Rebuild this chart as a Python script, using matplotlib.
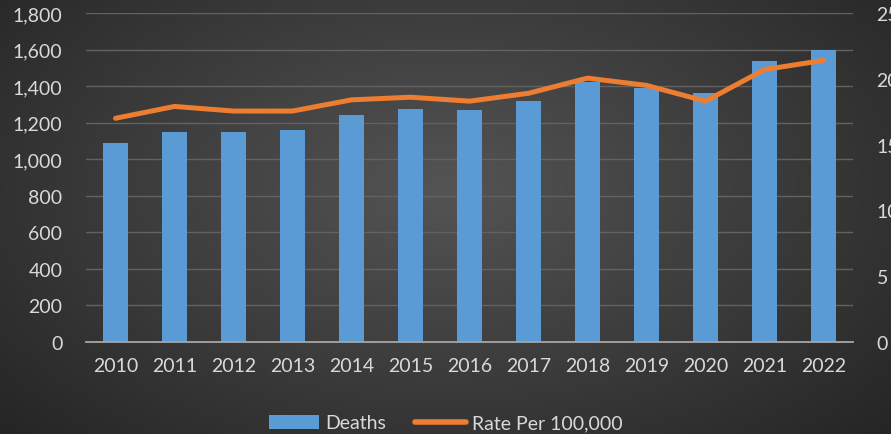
import numpy as np
import matplotlib.pyplot as plt
from matplotlib.patches import Patch
from matplotlib.lines import Line2D

years = ['2010', '2011', '2012', '2013', '2014', '2015', '2016',
         '2017', '2018', '2019', '2020', '2021', '2022']
deaths = [1090, 1150, 1150, 1160, 1240, 1275, 1268, 1320, 1420, 1390, 1360, 1535, 1600]
rate = [17.0, 17.9, 17.55, 17.55, 18.4, 18.6, 18.3, 18.9, 20.05, 19.5, 18.3, 20.7, 21.4]

plt.rcParams['font.family'] = ['Lato', 'DejaVu Sans']
text_color = '#d9d9d9'
bar_color = '#5b9bd5'
line_color = '#ed7d31'

fig = plt.figure(figsize=(8.91, 4.35), dpi=100)

# Radial dark background
bg = fig.add_axes([0, 0, 1, 1], zorder=-10)
yy, xx = np.mgrid[0:435, 0:891]
r = np.sqrt(((xx - 445) / 560.0) ** 2 + ((yy - 190) / 330.0) ** 2)
shade = np.clip(0.33 - 0.17 * r, 0.14, 0.33)
bg.imshow(np.dstack([shade, shade, shade]), aspect='auto', extent=[0, 1, 0, 1])
bg.axis('off')

ax = fig.add_axes([86 / 891, 1 - 343 / 435, (853 - 86) / 891, (343 - 14) / 435])
ax.patch.set_alpha(0)
x = np.arange(len(years))
ax.bar(x, deaths, width=0.41, color=bar_color, zorder=2)
ax.set_ylim(0, 1800)
ax.set_yticks(range(0, 1801, 200))
ax.set_yticklabels([f'{v:,}' for v in range(0, 1801, 200)])
ax.set_xlim(-0.5, len(years) - 0.5)
ax.set_xticks(x)
ax.set_xticklabels(years)
ax.grid(axis='y', color='#626262', linewidth=1.0, zorder=0)
ax.set_axisbelow(True)
for s in ['top', 'right', 'left']:
    ax.spines[s].set_visible(False)
ax.spines['bottom'].set_color('#a6a6a6')
ax.spines['bottom'].set_linewidth(1.3)
ax.tick_params(axis='both', length=0, colors=text_color, labelsize=14)
ax.tick_params(axis='y', pad=17)
ax.tick_params(axis='x', pad=11)

ax2 = ax.twinx()
ax2.plot(x, rate, color=line_color, linewidth=3.6, solid_capstyle='round', zorder=3)
ax2.set_ylim(0, 25)
ax2.set_yticks(range(0, 26, 5))
for s in ax2.spines.values():
    s.set_visible(False)
ax2.tick_params(axis='y', length=0, colors=text_color, labelsize=14, pad=17)

handles = [Patch(facecolor=bar_color, label='Deaths'),
           Line2D([0], [0], color=line_color, linewidth=4, solid_capstyle='round',
                  label='Rate Per 100,000')]
fig.legend(handles=handles, loc='center', bbox_to_anchor=(0.5, 1 - 424 / 435),
           ncol=2, frameon=False, fontsize=14, labelcolor=text_color,
           handlelength=2.6, columnspacing=1.5, handletextpad=0.3)

fig.savefig('out.png', dpi=100)
